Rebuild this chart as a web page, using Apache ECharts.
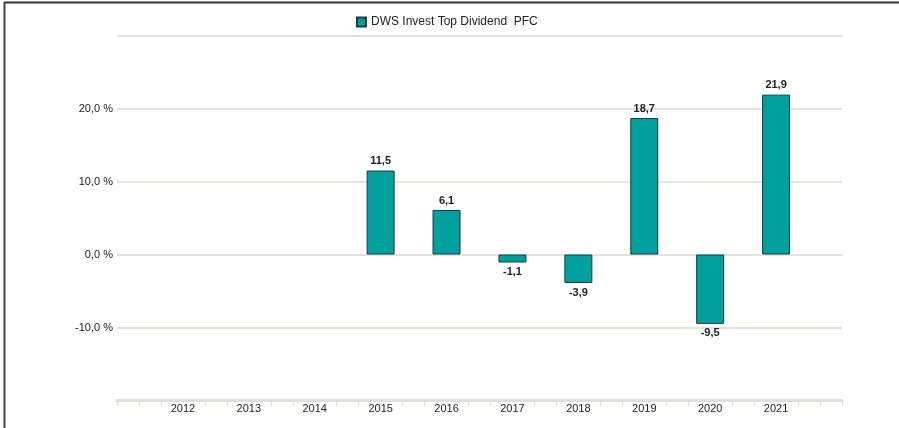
<!DOCTYPE html>
<html>
<head>
<meta charset="utf-8">
<script src="https://cdn.jsdelivr.net/npm/echarts@6/dist/echarts.min.js"></script>
<style>
html,body{margin:0;padding:0;background:#fff;}
#c{width:899px;height:428px;}
</style>
</head>
<body>
<div id="c"></div>
<script>
const seriesName = 'DWS Invest Top Dividend  PFC';
const years = [2012, 2013, 2014, 2015, 2016, 2017, 2018, 2019, 2020, 2021];
const values = [null, null, null, 11.5, 6.1, -1.1, -3.9, 18.7, -9.5, 21.9];
const yTicks = [-20, -10, 0, 10, 20, 30];
const yLabelsShown = [-10, 0, 10, 20];

const xMin = years[0] - 1, xMax = years[years.length - 1] + 1;
const tickVals = [];
for (let y = xMin; y < xMax; y++) {
  if (y === xMin) tickVals.push(y);
  tickVals.push(y + 1/3, y + 2/3);
}
tickVals.push(xMax);

const fmt = v => v.toFixed(1).replace('.', ',');

const chart = echarts.init(document.getElementById('c'));
chart.setOption({
  animation: false,
  textStyle: { fontFamily: 'Liberation Sans, Arial, sans-serif' },
  legend: {
    top: 11, left: 351,
    itemWidth: 9, itemHeight: 9, itemGap: 5,
    textStyle: { fontSize: 12, color: '#222' },
    data: [{ name: seriesName, icon: 'rect' }]
  },
  graphic: [
    { type: 'line', shape: { x1: 4, y1: 2.5, x2: 899, y2: 2.5 }, style: { stroke: '#333', lineWidth: 2 } },
    { type: 'line', shape: { x1: 4.5, y1: 2, x2: 4.5, y2: 428 }, style: { stroke: '#444', lineWidth: 2 } }
  ],
  grid: { left: 117, right: 57, top: 35.5, bottom: 27.5 },
  xAxis: {
    type: 'value', min: xMin, max: xMax,
    axisLine: { show: true, onZero: false, lineStyle: { color: '#e2dfd8', width: 3 } },
    axisTick: { show: true, customValues: tickVals, length: 5, lineStyle: { color: '#dcd9d2', width: 1 } },
    axisLabel: { customValues: years, formatter: v => String(v), fontSize: 11, color: '#222', margin: 3 },
    splitLine: { show: false }
  },
  yAxis: {
    type: 'value', min: yTicks[0], max: yTicks[yTicks.length - 1], interval: 10,
    axisLine: { show: false }, axisTick: { show: false },
    axisLabel: {
      fontSize: 11, color: '#222', margin: 4,
      formatter: v => yLabelsShown.indexOf(v) >= 0 ? fmt(v) + ' %' : ''
    },
    splitLine: { lineStyle: { color: '#dcd9d2', width: 1.5 } }
  },
  series: [{
    name: seriesName, type: 'bar', barWidth: 28,
    data: years.map((y, i) => ({
      value: [y, values[i]],
      label: { position: values[i] != null && values[i] < 0 ? 'bottom' : 'top' }
    })),
    itemStyle: { color: '#00a09f', borderColor: '#1d3b3b', borderWidth: 1 },
    label: {
      show: true, fontSize: 11, fontWeight: 'bold', color: '#222', distance: 4,
      formatter: p => p.value[1] == null ? '' : fmt(p.value[1])
    }
  }]
});
</script>
</body>
</html>
